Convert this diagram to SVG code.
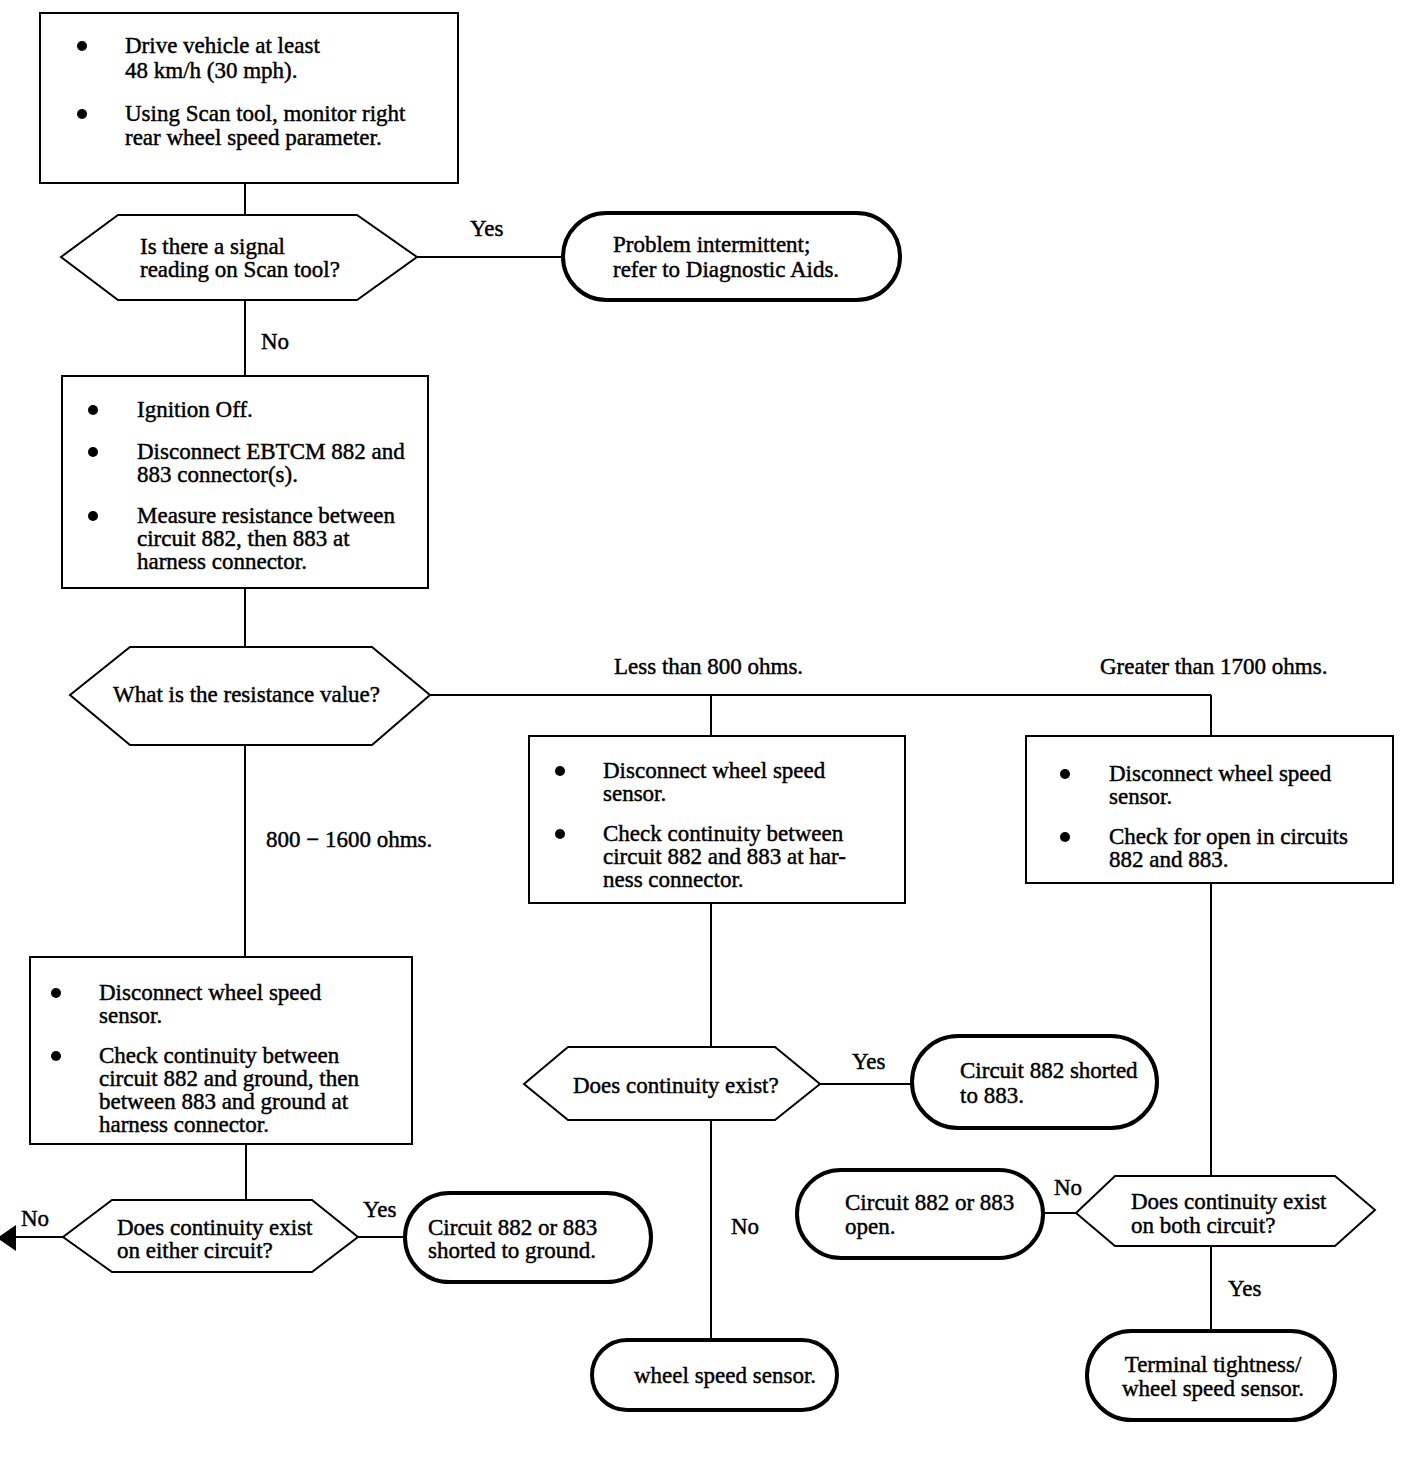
<svg xmlns="http://www.w3.org/2000/svg" width="1408" height="1482" viewBox="0 0 1408 1482">
<style>
text{font-family:"Liberation Serif","Times New Roman",serif;font-size:23px;fill:#000;stroke:#000;stroke-width:0.45}
.box{fill:#fff;stroke:#000;stroke-width:2}
.term{fill:#fff;stroke:#000;stroke-width:4}
.ln{fill:none;stroke:#000;stroke-width:2}
.b{fill:#000}
</style>
<rect width="1408" height="1482" fill="#fff"/>
<g id="connectors">
<path class="ln" d="M245 183V215M417 257H563M245 300V376M245 588V647M430 695H1211M711 695V736M1211 695V736M245 745V957M246 1144V1200M358 1237H405M63 1237H14M711 903V1047M820 1084H912M711 1120V1340M1211 883V1176M1076 1213H1043M1211 1246V1331"/>
<polygon points="-3,1238 16,1225 16,1251" fill="#000"/>
<text x="470" y="236">Yes</text>
<text x="261" y="349">No</text>
<text x="614" y="674">Less than 800 ohms.</text>
<text x="1100" y="674">Greater than 1700 ohms.</text>
<text x="266" y="847">800 − 1600 ohms.</text>
<text x="363" y="1217">Yes</text>
<text x="21" y="1226">No</text>
<text x="852" y="1069">Yes</text>
<text x="731" y="1234">No</text>
<text x="1054" y="1195">No</text>
<text x="1228" y="1296">Yes</text>
</g>
<g id="box1">
<rect class="box" x="40" y="13" width="418" height="170"/>
<circle class="b" cx="82" cy="46" r="5"/><circle class="b" cx="82" cy="114" r="5"/>
<text x="125" y="53">Drive vehicle at least</text>
<text x="125" y="78">48 km/h (30 mph).</text>
<text x="125" y="121">Using Scan tool, monitor right</text>
<text x="125" y="145">rear wheel speed parameter.</text>
</g>
<g id="dec1">
<polygon class="box" points="61,257 118,215 357,215 417,257 357,300 118,300"/>
<text x="140" y="254">Is there a signal</text>
<text x="140" y="277">reading on Scan tool?</text>
</g>
<g id="term1">
<rect class="term" x="563" y="213" width="337" height="87" rx="43.5"/>
<text x="613" y="252">Problem intermittent;</text>
<text x="613" y="277">refer to Diagnostic Aids.</text>
</g>
<g id="box2">
<rect class="box" x="62" y="376" width="366" height="212"/>
<circle class="b" cx="93" cy="410" r="5"/><circle class="b" cx="93" cy="452" r="5"/><circle class="b" cx="93" cy="516" r="5"/>
<text x="137" y="417">Ignition Off.</text>
<text x="137" y="459">Disconnect EBTCM 882 and</text>
<text x="137" y="482">883 connector(s).</text>
<text x="137" y="523">Measure resistance between</text>
<text x="137" y="546">circuit 882, then 883 at</text>
<text x="137" y="569">harness connector.</text>
</g>
<g id="dec2">
<polygon class="box" points="70,695 130,647 372,647 430,695 372,745 130,745"/>
<text x="113" y="702">What is the resistance value?</text>
</g>
<g id="box3">
<rect class="box" x="529" y="736" width="376" height="167"/>
<circle class="b" cx="560" cy="771" r="5"/><circle class="b" cx="560" cy="834" r="5"/>
<text x="603" y="778">Disconnect wheel speed</text>
<text x="603" y="801">sensor.</text>
<text x="603" y="841">Check continuity between</text>
<text x="603" y="864">circuit 882 and 883 at har-</text>
<text x="603" y="887">ness connector.</text>
</g>
<g id="box4">
<rect class="box" x="1026" y="736" width="367" height="147"/>
<circle class="b" cx="1065" cy="774" r="5"/><circle class="b" cx="1065" cy="837" r="5"/>
<text x="1109" y="781">Disconnect wheel speed</text>
<text x="1109" y="804">sensor.</text>
<text x="1109" y="844">Check for open in circuits</text>
<text x="1109" y="867">882 and 883.</text>
</g>
<g id="box5">
<rect class="box" x="30" y="957" width="382" height="187"/>
<circle class="b" cx="56" cy="993" r="5"/><circle class="b" cx="56" cy="1056" r="5"/>
<text x="99" y="1000">Disconnect wheel speed</text>
<text x="99" y="1023">sensor.</text>
<text x="99" y="1063">Check continuity between</text>
<text x="99" y="1086">circuit 882 and ground, then</text>
<text x="99" y="1109">between 883 and ground at</text>
<text x="99" y="1132">harness connector.</text>
</g>
<g id="dec3">
<polygon class="box" points="63,1237 112,1200 312,1200 358,1237 312,1272 112,1272"/>
<text x="117" y="1235">Does continuity exist</text>
<text x="117" y="1258">on either circuit?</text>
</g>
<g id="term3">
<rect class="term" x="405" y="1193" width="246" height="89" rx="44.5"/>
<text x="428" y="1235">Circuit 882 or 883</text>
<text x="428" y="1258">shorted to ground.</text>
</g>
<g id="dec4">
<polygon class="box" points="524,1084 568,1047 775,1047 820,1084 775,1120 568,1120"/>
<text x="573" y="1093">Does continuity exist?</text>
</g>
<g id="term4">
<rect class="term" x="912" y="1036" width="245" height="92" rx="46"/>
<text x="960" y="1078">Circuit 882 shorted</text>
<text x="960" y="1103">to 883.</text>
</g>
<g id="term5">
<rect class="term" x="592" y="1340" width="245" height="70" rx="35"/>
<text x="634" y="1383">wheel speed sensor.</text>
</g>
<g id="dec5">
<polygon class="box" points="1076,1213 1115,1176 1335,1176 1375,1210 1335,1246 1115,1246"/>
<text x="1131" y="1209">Does continuity exist</text>
<text x="1131" y="1233">on both circuit?</text>
</g>
<g id="term6">
<rect class="term" x="797" y="1170" width="246" height="88" rx="44"/>
<text x="845" y="1210">Circuit 882 or 883</text>
<text x="845" y="1234">open.</text>
</g>
<g id="term7">
<rect class="term" x="1087" y="1331" width="248" height="89" rx="44.5"/>
<text x="1213" y="1372" text-anchor="middle">Terminal tightness/</text>
<text x="1213" y="1396" text-anchor="middle">wheel speed sensor.</text>
</g>
</svg>
